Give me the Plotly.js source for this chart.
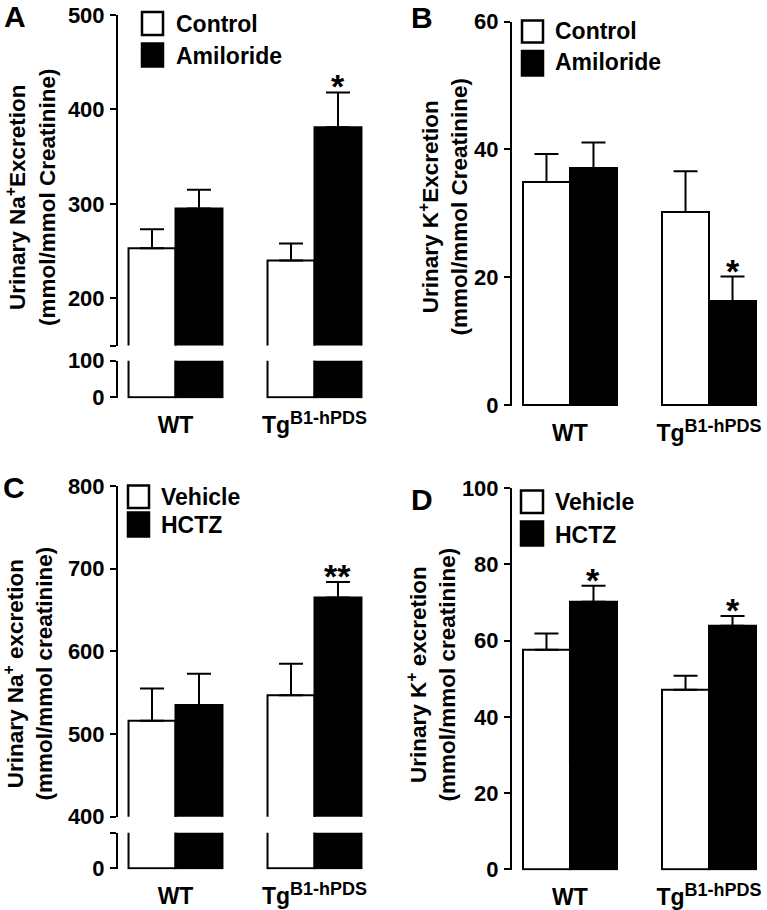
<!DOCTYPE html>
<html>
<head>
<meta charset="utf-8">
<script src="https://cdn.plot.ly/plotly-3.0.1.min.js"></script>
<style>html,body{margin:0;padding:0;background:#fff;}#chart{width:767px;height:910px;}</style>
</head>
<body>
<div id="chart"></div>
<script>
// ---------- data ----------
const categories = ['WT', 'Tg<sup><span style="font-size:18px">B1-hPDS</span></sup>'];

// Panel A: urinary Na+ excretion, Control vs Amiloride
const naAmilControl = [253, 240];
const naAmilControlSem = [20, 18];
const naAmilDrug = [295, 381];
const naAmilDrugSem = [20, 37];
const sigA = ['', '*'];

// Panel B: urinary K+ excretion, Control vs Amiloride
const kAmilControl = [34.9, 30.2];
const kAmilControlSem = [4.4, 6.4];
const kAmilDrug = [37.1, 16.3];
const kAmilDrugSem = [4.0, 3.8];
const sigB = ['', '*'];

// Panel C: urinary Na+ excretion, Vehicle vs HCTZ
const naHctzVehicle = [516, 547];
const naHctzVehicleSem = [39, 38];
const naHctzDrug = [535, 665];
const naHctzDrugSem = [38, 19];
const sigC = ['', '**'];

// Panel D: urinary K+ excretion, Vehicle vs HCTZ
const kHctzVehicle = [57.6, 47.1];
const kHctzVehicleSem = [4.3, 3.7];
const kHctzDrug = [70.2, 63.9];
const kHctzDrugSem = [4.2, 2.6];
const sigD = ['*', '*'];

// ---------- helpers ----------
const W = 767, H = 910;
const BW = 0.338;
const xs = categories.map((_, i) => i);
const FONT = 'Liberation Sans, Arial, Helvetica, sans-serif';
function fnt(size) { return { family: FONT, size: size, color: '#000', weight: 'bold' }; }
function b(t) { return t ? '<b>' + t + '</b>' : ''; }
function dx(a, c) { return [a / W, c / W]; }
function dy(top, bottom) { return [1 - bottom / H, 1 - top / H]; }

function bar(xa, ya, vals, sem, isDrug, withErr) {
  return {
    type: 'bar', x: xs, y: vals, xaxis: xa, yaxis: ya,
    width: BW, offset: isDrug ? 0 : -BW,
    marker: { color: isDrug ? '#000' : '#fff', line: { color: '#000', width: 2 } },
    error_y: withErr ? { type: 'data', array: sem, arrayminus: sem.map(() => 0), symmetric: false,
      color: '#000', thickness: 2, width: 12 } : { visible: false },
    showlegend: false, hoverinfo: 'skip'
  };
}

const traces = [
  bar('x', 'y', naAmilControl, naAmilControlSem, false, true),
  bar('x', 'y', naAmilDrug, naAmilDrugSem, true, true),
  bar('x', 'y2', naAmilControl, naAmilControlSem, false, false),
  bar('x', 'y2', naAmilDrug, naAmilDrugSem, true, false),
  bar('x2', 'y3', kAmilControl, kAmilControlSem, false, true),
  bar('x2', 'y3', kAmilDrug, kAmilDrugSem, true, true),
  bar('x3', 'y4', naHctzVehicle, naHctzVehicleSem, false, true),
  bar('x3', 'y4', naHctzDrug, naHctzDrugSem, true, true),
  bar('x3', 'y5', naHctzVehicle, naHctzVehicleSem, false, false),
  bar('x3', 'y5', naHctzDrug, naHctzDrugSem, true, false),
  bar('x4', 'y6', kHctzVehicle, kHctzVehicleSem, false, true),
  bar('x4', 'y6', kHctzDrug, kHctzDrugSem, true, true)
];

function yax(domain, range, tickvals, ticktext, anchor) {
  return {
    domain: domain, range: range, anchor: anchor,
    tickvals: tickvals, ticktext: (ticktext || tickvals.map(String)).map(b),
    showline: true, linewidth: 2, linecolor: '#000',
    ticks: 'outside', ticklen: 6, tickwidth: 2, tickcolor: '#000',
    ticklabelstandoff: 1,
    showgrid: false, zeroline: false, fixedrange: true,
    tickfont: fnt(22)
  };
}
function xax(domain, range, anchor) {
  return {
    domain: domain, range: range, anchor: anchor,
    tickvals: xs, ticktext: categories.map(b),
    showline: false, showgrid: false, zeroline: false, ticks: '',
    ticklabelstandoff: 11, fixedrange: true,
    tickfont: fnt(23)
  };
}

const annotations = [];
function sig(xa, ya, vals, sem, marks, onDrug) {
  marks.forEach((m, i) => {
    if (!m) return;
    annotations.push({
      xref: xa, yref: ya, x: xs[i] + (onDrug ? BW / 2 : -BW / 2), y: vals[i] + sem[i],
      text: b(m), showarrow: false, xanchor: 'center', yanchor: 'bottom', yshift: -15,
      font: fnt(34)
    });
  });
}
sig('x', 'y', naAmilDrug, naAmilDrugSem, sigA, true);
sig('x2', 'y3', kAmilDrug, kAmilDrugSem, sigB, true);
sig('x3', 'y4', naHctzDrug, naHctzDrugSem, sigC, true);
sig('x4', 'y6', kHctzDrug, kHctzDrugSem, sigD, true);

function paperText(px, py, text, size, opts) {
  annotations.push(Object.assign({
    xref: 'paper', yref: 'paper', x: px / W, y: 1 - py / H, text: text, showarrow: false,
    xanchor: 'left', yanchor: 'middle', font: fnt(size)
  }, opts || {}));
}
paperText(14.5, 16, b('A'), 30, { xanchor: 'center' });
paperText(422, 17, b('B'), 30, { xanchor: 'center' });
paperText(14, 487, b('C'), 30, { xanchor: 'center' });
paperText(422, 499, b('D'), 30, { xanchor: 'center' });
paperText(31, 197, b('Urinary Na<sup>+</sup>Excretion') + '<br>' + b('(mmol/mmol Creatinine)'), 22.5, { xanchor: 'center', textangle: -90 });
paperText(443.5, 207, b('Urinary K<sup>+</sup>Excretion') + '<br>' + b('(mmol/mmol Creatinine)'), 22.5, { xanchor: 'center', textangle: -90 });
paperText(28.5, 674, b('Urinary Na<sup>+</sup> excretion') + '<br>' + b('(mmol/mmol creatinine)'), 22.5, { xanchor: 'center', textangle: -90 });
paperText(431.5, 675, b('Urinary K<sup>+</sup> excretion') + '<br>' + b('(mmol/mmol creatinine)'), 22.5, { xanchor: 'center', textangle: -90 });

const shapes = [];
function legend(x0, x1, boxes, labels, textX, textYs) {
  boxes.forEach((bx, i) => {
    shapes.push({ type: 'rect', xref: 'paper', yref: 'paper',
      x0: x0 / W, x1: x1 / W, y0: 1 - bx[1] / H, y1: 1 - bx[0] / H,
      line: { color: '#000', width: 2.5 }, fillcolor: i === 0 ? '#fff' : '#000' });
    paperText(textX, textYs[i], b(labels[i]), 23);
  });
}
legend(142, 163, [[12, 35], [43.5, 66.5]], ['Control', 'Amiloride'], 174, [23.5, 55.5]);
legend(522, 543, [[20.5, 42.5], [51, 75.5]], ['Control', 'Amiloride'], 553, [31, 62.5]);
legend(128, 149, [[485.5, 508], [512.5, 536.5]], ['Vehicle', 'HCTZ'], 158.5, [497, 524.5]);
legend(521, 543, [[490.5, 513], [521.5, 545.5]], ['Vehicle', 'HCTZ'], 552.5, [502, 534.5]);

const layout = {
  width: W, height: H,
  margin: { l: 0, r: 0, t: 0, b: 0 },
  paper_bgcolor: '#fff', plot_bgcolor: 'rgba(0,0,0,0)',
  font: fnt(21),
  barmode: 'overlay', showlegend: false,
  xaxis: xax(dx(118, 384), [-0.4137, 1.5], 'y2'),
  yaxis: yax(dy(15, 345.5), [150, 500], [150, 200, 300, 400, 500], ['', '200', '300', '400', '500'], 'x'),
  yaxis2: yax(dy(360.7, 398.4), [-3, 100], [0, 100], null, 'x'),
  xaxis2: xax(dx(512, 767), [-0.417, 1.417], 'y3'),
  yaxis3: yax(dy(21.7, 406.3), [-0.2, 60], [0, 20, 40, 60], null, 'x2'),
  xaxis3: xax(dx(118, 384), [-0.4137, 1.5], 'y5'),
  yaxis4: yax(dy(486, 816.7), [400, 800], [400, 500, 600, 700, 800], null, 'x3'),
  yaxis5: yax(dy(832.7, 869.4), [-3, 100], [0, 100], ['0', ''], 'x3'),
  xaxis4: xax(dx(512, 767), [-0.417, 1.417], 'y6'),
  yaxis6: yax(dy(488.3, 870.4), [-0.3, 100], [0, 20, 40, 60, 80, 100], null, 'x4'),
  annotations: annotations,
  shapes: shapes
};

Plotly.newPlot('chart', traces, layout, { staticPlot: true, displayModeBar: false });
</script>
</body>
</html>
